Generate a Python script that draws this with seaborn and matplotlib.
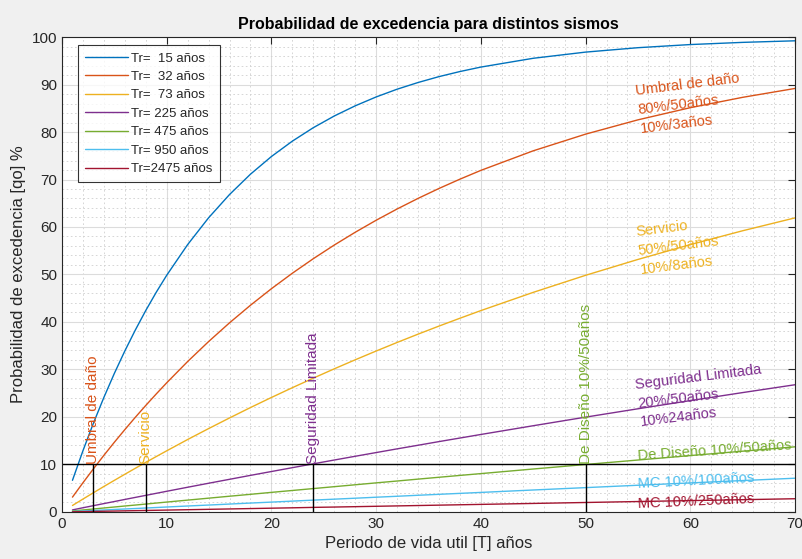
import matplotlib
matplotlib.use("Agg")
import matplotlib.pyplot as plt
import seaborn as sns
import pandas as pd
from matplotlib.ticker import MultipleLocator

# Periodo de vida util [T] (años)
T = [1, 2, 3, 4, 5, 6, 7, 8, 9, 10,
     12, 14, 16, 18, 20, 22, 24, 26, 28, 30, 32, 34, 36, 38, 40,
     45, 50, 55, 60, 65, 70]

q_15 = [6.67, 12.89, 18.70, 24.12, 29.18, 33.90, 38.30, 42.42, 46.26, 49.84,
        56.30, 61.94, 66.84, 71.12, 74.84, 78.08, 80.91, 83.37, 85.51, 87.38,
        89.01, 90.42, 91.66, 92.73, 93.67,
        95.52, 96.82, 97.75, 98.41, 98.87, 99.20]
q_32 = [3.13, 6.15, 9.08, 11.93, 14.68, 17.34, 19.93, 22.43, 24.85, 27.20,
        31.68, 35.88, 39.83, 43.53, 47.01, 50.27, 53.33, 56.20, 58.89, 61.42,
        63.79, 66.02, 68.11, 70.07, 71.92,
        76.04, 79.55, 82.56, 85.12, 87.30, 89.17]
q_73 = [1.37, 2.72, 4.05, 5.37, 6.66, 7.94, 9.20, 10.45, 11.67, 12.88,
        15.26, 17.56, 19.80, 21.99, 24.11, 26.17, 28.18, 30.14, 32.04, 33.89,
        35.69, 37.44, 39.14, 40.79, 42.40,
        46.24, 49.83, 53.17, 56.29, 59.21, 61.92]
q_225 = [0.44, 0.89, 1.33, 1.77, 2.20, 2.64, 3.07, 3.50, 3.93, 4.36,
         5.21, 6.05, 6.88, 7.71, 8.52, 9.33, 10.14, 10.94, 11.73, 12.51,
         13.29, 14.05, 14.82, 15.57, 16.32,
         18.16, 19.97, 21.73, 23.45, 25.14, 26.79]
q_475 = [0.21, 0.42, 0.63, 0.84, 1.05, 1.26, 1.46, 1.67, 1.88, 2.09,
         2.50, 2.91, 3.32, 3.72, 4.13, 4.53, 4.93, 5.33, 5.73, 6.13,
         6.52, 6.92, 7.31, 7.70, 8.08,
         9.05, 10.00, 10.94, 11.88, 12.80, 13.72]
q_950 = [0.11, 0.21, 0.32, 0.42, 0.53, 0.63, 0.73, 0.84, 0.94, 1.05,
         1.26, 1.46, 1.67, 1.88, 2.08, 2.29, 2.50, 2.70, 2.90, 3.11,
         3.31, 3.52, 3.72, 3.92, 4.12,
         4.63, 5.13, 5.63, 6.12, 6.62, 7.11]
q_2475 = [0.04, 0.08, 0.12, 0.16, 0.20, 0.24, 0.28, 0.32, 0.36, 0.40,
          0.48, 0.56, 0.64, 0.72, 0.80, 0.88, 0.97, 1.04, 1.12, 1.20,
          1.28, 1.36, 1.44, 1.52, 1.60,
          1.80, 2.00, 2.20, 2.40, 2.59, 2.79]

series = [q_15, q_32, q_73, q_225, q_475, q_950, q_2475]
labels = ['Tr=  15 años', 'Tr=  32 años', 'Tr=  73 años', 'Tr= 225 años',
          'Tr= 475 años', 'Tr= 950 años', 'Tr=2475 años']
colors = ['#0072BD', '#D95319', '#EDB120', '#7E2F8E', '#77AC30', '#4DBEEE', '#A2142F']

# Niveles de desempeño: periodo de vida util donde q = 10%
lim_T = [3, 8, 24, 50]
lim_names = ['Umbral de daño', 'Servicio', 'Seguridad Limitada', 'De Diseño 10%/50años']
lim_colors = ['#D95319', '#EDB120', '#7E2F8E', '#77AC30']

# Anotaciones al lado derecho
note_texts = ['Umbral de daño\n80%/50años\n10%/3años',
              'Servicio\n50%/50años\n10%/8años',
              'Seguridad Limitada\n20%/50años\n10%24años',
              'De Diseño 10%/50años',
              'MC 10%/100años',
              'MC 10%/250años']
note_y = [84.6, 55.0, 22.8, 11.8, 5.8, 1.6]
note_rot = [7, 7, 7, 4, 3, 2.5]
note_colors = ['#D95319', '#EDB120', '#7E2F8E', '#77AC30', '#4DBEEE', '#A2142F']

sns.set_style("white")
plt.rcParams['font.family'] = ['Liberation Sans', 'DejaVu Sans']

fig = plt.figure(figsize=(8.02, 5.59), dpi=100, facecolor='#F0F0F0')
ax = fig.add_axes([0.0773, 0.0841, 0.9140, 0.8497])
ax.set_facecolor('white')

for vals, lab, col in zip(series, labels, colors):
    df = pd.DataFrame({'T': T, 'q': vals})
    sns.lineplot(data=df, x='T', y='q', ax=ax, color=col, lw=1.0, label=lab)

# Linea de 10% y verticales
ax.plot([0, 70], [10, 10], color='black', lw=1.0)
for t, name, col in zip(lim_T, lim_names, lim_colors):
    ax.plot([t, t], [0, 10], color='black', lw=1.0)
    ax.text(t, 10, name, rotation=90, ha='center', va='bottom', color=col, fontsize=11)

for txt, y, rot, col in zip(note_texts, note_y, note_rot, note_colors):
    ax.text(55, y, txt, rotation=rot, ha='left', va='center', color=col,
            fontsize=10.5, linespacing=1.45, rotation_mode='anchor')

ax.set_xlim(0, 70)
ax.set_ylim(0, 100)
ax.xaxis.set_major_locator(MultipleLocator(10))
ax.yaxis.set_major_locator(MultipleLocator(10))
ax.xaxis.set_minor_locator(MultipleLocator(2))
ax.yaxis.set_minor_locator(MultipleLocator(2))
ax.grid(which='major', color='#DCDCDC', lw=0.8, ls='-')
ax.grid(which='minor', color='#D0D0D0', lw=0.6, ls=(0, (2, 3)))
ax.set_axisbelow(True)
ax.tick_params(which='major', direction='in', length=5, top=True, right=True,
               labelsize=11, colors='#262626', width=0.8)
ax.tick_params(which='minor', length=0)
for s in ax.spines.values():
    s.set_color('#262626')
    s.set_linewidth(0.8)

ax.set_title('Probabilidad de excedencia para distintos sismos', fontsize=11.5,
             fontweight='bold', color='black', pad=6)
ax.set_xlabel('Periodo de vida util [T] años', fontsize=12, color='#262626', labelpad=4)
ax.set_ylabel('Probabilidad de excedencia [qo] %', fontsize=12, color='#262626', labelpad=4)

leg = ax.legend(loc='upper left', bbox_to_anchor=(0.022, 0.983), borderaxespad=0,
                fontsize=9.5, frameon=True, fancybox=False, handlelength=3.2,
                labelspacing=0.47, borderpad=0.55, handletextpad=0.25)
leg.get_frame().set_edgecolor('black')
leg.get_frame().set_linewidth(0.8)

fig.savefig('out.png', dpi=100, facecolor=fig.get_facecolor())
